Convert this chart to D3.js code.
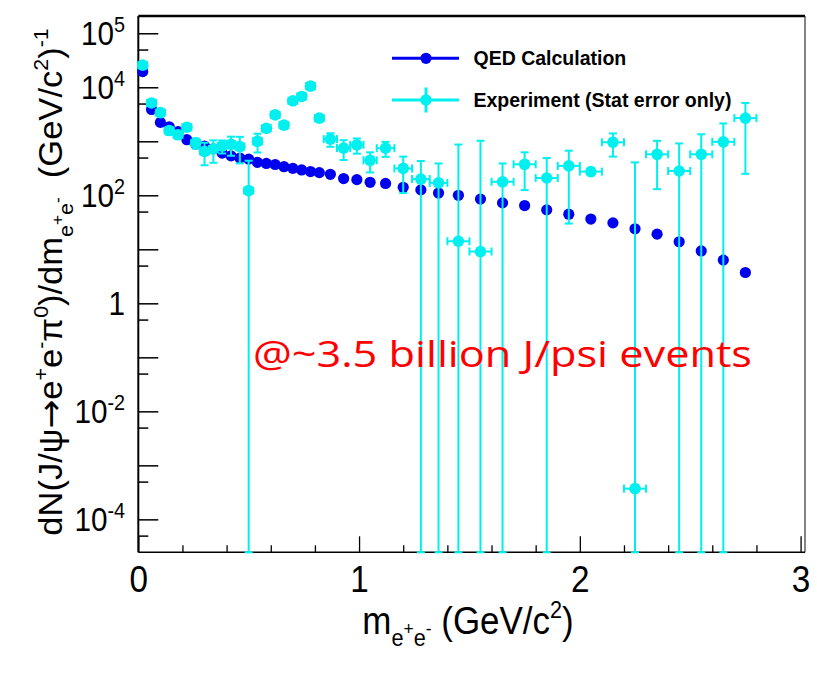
<!DOCTYPE html>
<html><head><meta charset="utf-8">
<script src="https://cdn.jsdelivr.net/npm/d3@7"></script>
<style>body{margin:0;background:#fff} svg{display:block}</style>
</head><body><svg id="c" width="817" height="673"></svg>
<script>
// ---- data ----
const massBins = [0.02,0.06,0.10,0.14,0.18,0.22,0.26,0.30,0.34,0.38,0.42,0.46,0.50,0.54,0.58,0.62,0.66,0.70,0.74,0.78,0.82,
  0.87,0.93,0.99,1.05,1.12,1.20,1.28,1.36,1.45,1.55,1.65,1.75,1.85,1.95,2.05,2.15,2.25,2.35,2.45,2.55,2.65,2.75];
const massHalfWidth = [0.02,0.02,0.02,0.02,0.02,0.02,0.02,0.02,0.02,0.02,0.02,0.02,0.02,0.02,0.02,0.02,0.02,0.02,0.02,0.02,0.02,
  0.03,0.03,0.03,0.03,0.04,0.04,0.04,0.04,0.05,0.05,0.05,0.05,0.05,0.05,0.05,0.05,0.05,0.05,0.05,0.05,0.05,0.05];
const qedValues = [19500,3890,2240,1860,1510,1070,891,813,724,603,537,490,468,407,389,372,339,316,295,275,263,
  245,204,195,174,166,141,126,110,100,85.1,72.4,64.6,53.7,44.7,36.3,30.9,24.0,19.1,13.8,9.33,6.31,3.72];
const expValues = [25700,5130,3390,1580,1320,1820,933,650,720,815,880,800,122,1000,1740,3090,1995,5620,6760,10500,2690,
  1100,750,860,445,745,315,200,170,14.1,9.1,178,375,209,350,275,960,0.00037,575,282,575,977,2690];
const expErrors = [2500,500,400,250,200,250,200,290,320,220,340,410,315,380,200,300,300,500,600,800,300,
  310,300,270,180,230,205,232,219,857,1014,211,250,281,320,40,440,407,445,630,774,1161,2440];
const xTickValues = [0,1,2,3];
const xTickLabels = ["0","1","2","3"];
const yLabelDecades = [5,4,2,0,-2,-4];
const seriesNames = ["QED Calculation","Experiment (Stat error only)"];
const annotation = "@~3.5 billion J/psi events";

// ---- layout ----
const svg = d3.select("#c");
svg.append("rect").attr("width",817).attr("height",673).attr("fill","#fff");
const X0=138.3, X1=805, Y0=552.3, Y1=16;
const x = d3.scaleLinear().domain([0,3.02]).range([X0,X1]);
const y = d3.scaleLog().domain([Math.pow(10,-4.61),Math.pow(10,5.32)]).range([Y0,Y1]);
const yMin = y.domain()[0];
const BLUE="#0000f0", CYAN="#00f0f0";
const FONT="'Liberation Sans', Arial, Helvetica, sans-serif";

// x ticks
const minorX = d3.range(0,3.001,0.2).filter(v=>Math.abs(v-Math.round(v))>1e-6);
svg.append("g").attr("transform",`translate(0,${Y0})`)
  .call(d3.axisBottom(x).tickValues(minorX).tickSize(-7).tickSizeOuter(0).tickFormat(""))
  .call(g=>{g.select(".domain").remove(); g.selectAll("line").attr("stroke","#000").attr("stroke-width",1.3);});
const xa = svg.append("g").attr("transform",`translate(0,${Y0})`)
  .call(d3.axisBottom(x).tickValues(xTickValues).tickSize(-16).tickSizeOuter(0).tickFormat((d,i)=>xTickLabels[i]))
  .call(g=>{g.select(".domain").remove(); g.selectAll("line").attr("stroke","#000").attr("stroke-width",1.3);});
xa.selectAll("text").attr("y",40).attr("dy",0).attr("fill","#000")
  .attr("font-family",FONT).attr("font-size",37).attr("transform","scale(0.9,1)");

// y ticks
const majorY = d3.range(-4,6).map(d=>Math.pow(10,d));
const minorY = d3.range(-5,5).map(d=>5*Math.pow(10,d)).filter(v=>v>=yMin);
svg.append("g").attr("transform",`translate(${X0},0)`)
  .call(d3.axisLeft(y).tickValues(majorY).tickSize(-20).tickSizeOuter(0).tickFormat(""))
  .call(g=>{g.select(".domain").remove(); g.selectAll("line").attr("stroke","#000").attr("stroke-width",1.5);});
svg.append("g").attr("transform",`translate(${X0},0)`)
  .call(d3.axisLeft(y).tickValues(minorY).tickSize(-10).tickSizeOuter(0).tickFormat(""))
  .call(g=>{g.select(".domain").remove(); g.selectAll("line").attr("stroke","#000").attr("stroke-width",1.5);});

// y labels
yLabelDecades.forEach(d=>{
  const ty = y(Math.pow(10,d));
  const g = svg.append("g").attr("transform",`translate(125,${ty+12}) scale(0.9,1)`);
  const t = g.append("text").attr("text-anchor","end").attr("font-family",FONT).attr("font-size",33).attr("fill","#000");
  if(d===0){ t.text("1"); }
  else { t.append("tspan").text("10"); t.append("tspan").attr("dy",-13).attr("font-size",22).text(String(d)); }
});

// frame
svg.append("line").attr("x1",X0).attr("x2",X1).attr("y1",Y1).attr("y2",Y1).attr("stroke","#000").attr("stroke-width",2.5);
svg.append("line").attr("x1",X1).attr("x2",X1).attr("y1",Y1).attr("y2",Y0).attr("stroke","#333").attr("stroke-width",1.2);
svg.append("line").attr("x1",X0).attr("x2",X1).attr("y1",Y0).attr("y2",Y0).attr("stroke","#000").attr("stroke-width",1.6);
svg.append("line").attr("x1",X0).attr("x2",X0).attr("y1",Y1).attr("y2",Y0).attr("stroke","#000").attr("stroke-width",2);

// QED markers
svg.append("g").selectAll("circle").data(massBins).join("circle")
  .attr("cx",(m)=>x(m)).attr("cy",(m,i)=>y(qedValues[i])).attr("r",5.6).attr("fill",BLUE);

// Experiment with error bars
const eg = svg.append("g").attr("stroke",CYAN).attr("stroke-width",2).attr("fill","none");
massBins.forEach((m,i)=>{
  const v=expValues[i], e=expErrors[i], hw=massHalfWidth[i];
  const yt=y(v+e), yb=(v-e)>yMin? y(v-e): Y0, yc=y(v);
  const xl=x(m-hw), xr=x(m+hw), xc=x(m);
  eg.append("line").attr("x1",xc).attr("x2",xc).attr("y1",yt).attr("y2",yb);
  eg.append("line").attr("x1",xc-4).attr("x2",xc+4).attr("y1",yt).attr("y2",yt);
  eg.append("line").attr("x1",xc-4).attr("x2",xc+4).attr("y1",yb).attr("y2",yb);
  eg.append("line").attr("x1",xl).attr("x2",xr).attr("y1",yc).attr("y2",yc);
  eg.append("line").attr("x1",xl).attr("x2",xl).attr("y1",yc-4).attr("y2",yc+4);
  eg.append("line").attr("x1",xr).attr("x2",xr).attr("y1",yc-4).attr("y2",yc+4);
});
svg.append("g").selectAll("circle").data(massBins).join("circle")
  .attr("cx",(m)=>x(m)).attr("cy",(m,i)=>y(expValues[i])).attr("r",5.8).attr("fill",CYAN);

// legend
const lg = svg.append("g");
lg.append("line").attr("x1",392).attr("x2",459).attr("y1",58.3).attr("y2",58.3).attr("stroke",BLUE).attr("stroke-width",3);
lg.append("circle").attr("cx",426).attr("cy",58.3).attr("r",5.6).attr("fill",BLUE);
lg.append("line").attr("x1",392).attr("x2",459).attr("y1",100).attr("y2",100).attr("stroke",CYAN).attr("stroke-width",3);
lg.append("line").attr("x1",426).attr("x2",426).attr("y1",87.5).attr("y2",112.5).attr("stroke",CYAN).attr("stroke-width",3);
lg.append("circle").attr("cx",426).attr("cy",100).attr("r",5.8).attr("fill",CYAN);
lg.append("text").attr("x",473.5).attr("y",65).attr("font-family",FONT).attr("font-weight","bold").attr("font-size",19.5).attr("fill","#000").text(seriesNames[0]);
lg.append("text").attr("x",473.5).attr("y",106.5).attr("font-family",FONT).attr("font-weight","bold").attr("font-size",19.5).attr("fill","#000").text(seriesNames[1]);

// rich text helper
function rich(t, parts, fs){
  const shift={n:0,sup:-0.42*fs,sub:0.32*fs,subsup:0.02*fs};
  const size={n:fs,sup:0.62*fs,sub:0.62*fs,subsup:0.5*fs};
  let cur=0;
  parts.forEach(([s,k,fam])=>{
    const ts=t.append("tspan").attr("font-size",size[k]).text(s);
    if(fam) ts.attr("font-family",fam);
    const dy=shift[k]-cur; if(dy!==0) ts.attr("dy",dy); cur=shift[k];
  });
  if(cur!==0) t.append("tspan").attr("dy",-cur).text("");
}

// y title
const ytg = svg.append("g").attr("transform","translate(62,282) rotate(-90) scale(1.03,1)");
const ytt = ytg.append("text").attr("text-anchor","middle").attr("font-family",FONT).attr("fill","#000");
rich(ytt, [["dN(J/ψ","n"],["→","n","'DejaVu Sans',sans-serif"],["e","n"],["+","sup"],["e","n"],["-","sup"],["π","n"],["0","sup"],[")/dm","n"],
  ["e","sub"],["+","subsup"],["e","sub"],["-","subsup"],["\u00a0\u00a0(GeV/c","n"],["2","sup"],[")","n"],["-1","sup"]], 33.5);

// x title
const xtg = svg.append("g").attr("transform","translate(468,634) scale(0.92,1)");
const xtt = xtg.append("text").attr("text-anchor","middle").attr("font-family",FONT).attr("fill","#000");
rich(xtt, [["m","n"],["e","sub"],["+","subsup"],["e","sub"],["-","subsup"],["\u00a0(GeV/c","n"],["2","sup"],[")","n"]], 38);

// annotation
svg.append("text").attr("x",253).attr("y",367).attr("font-family","'Open Sans','Noto Sans',sans-serif")
  .attr("font-size",37).attr("fill","#ff0000").attr("textLength",499).attr("lengthAdjust","spacingAndGlyphs").text(annotation);
</script></body></html>
